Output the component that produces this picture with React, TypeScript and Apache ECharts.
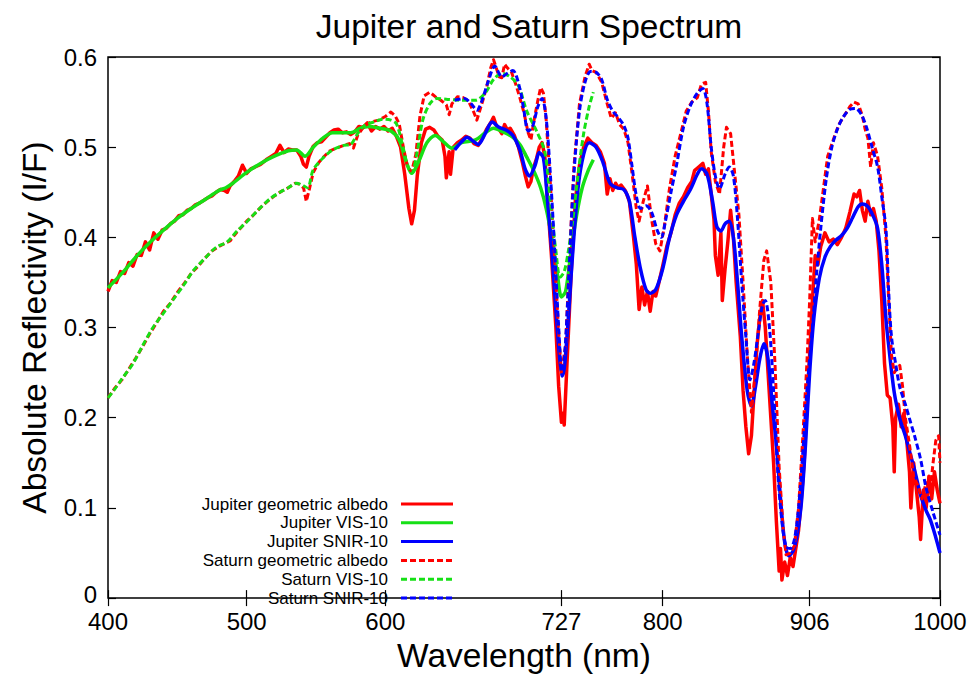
import React, { useEffect, useRef } from "react";
import * as echarts from "echarts";

// ---------- data ----------
const xTicks = [400, 500, 600, 727, 800, 906, 1000];
const yTicks = [0, 0.1, 0.2, 0.3, 0.4, 0.5, 0.6];

const legendNames = [
  "Jupiter geometric albedo",
  "Jupiter VIS-10",
  "Jupiter SNIR-10",
  "Saturn geometric albedo",
  "Saturn VIS-10",
  "Saturn SNIR-10",
];

// Jupiter geometric albedo (noisy)
const wlJupGeo = [
  400, 403, 406, 409, 412, 415, 418, 421, 424, 427, 430, 433, 436, 439, 442, 445, 448, 451, 454, 457,
  460, 463, 466, 469, 472, 475, 478, 481, 484, 486, 488, 491, 494, 497, 500, 503, 506, 510, 514, 518,
  521, 524, 527, 530, 533, 536, 539, 541, 543, 545, 548, 551, 554, 557, 560, 563, 566, 569, 572, 575,
  578, 581, 584, 587, 590, 593, 596, 599, 602, 605, 608, 611, 614, 617, 619, 621, 623, 626, 629, 632,
  635, 638, 641, 643, 644, 646, 647, 649, 652, 655, 658, 661, 664, 667, 670, 673, 676, 678, 680, 682,
  684, 686, 688, 690, 693, 696, 699, 701, 703, 705, 707, 709, 711, 713, 715, 717, 720, 723, 725, 727,
  728, 729, 731, 734, 737, 740, 743, 746, 749, 752, 755, 758, 760, 762, 764, 766, 768, 770, 773, 776,
  779, 781, 783, 785, 787, 789, 791, 793, 795, 797, 800, 803, 806, 809, 812, 815, 818, 821, 823, 826,
  829, 831, 833, 835, 837, 838, 840, 842, 843, 845, 847, 849, 851, 853, 856, 858, 860, 862, 864, 866,
  868, 870, 872, 874, 876, 878, 880, 882, 884, 885, 886, 888, 890, 892, 894, 896, 898, 900, 902, 904,
  906, 908, 910, 912, 914, 917, 920, 923, 926, 929, 932, 935, 938, 940, 942, 944, 946, 948, 950, 952,
  954, 956, 958, 960, 962, 964, 966, 967, 968, 970, 972, 974, 976, 978, 979, 981, 983, 985, 986, 988,
  990, 992, 994, 996, 998, 1000,
];
const rJupGeo = [
  0.340, 0.352, 0.350, 0.362, 0.360, 0.372, 0.368, 0.381, 0.380, 0.395, 0.386, 0.405, 0.398, 0.408, 0.410, 0.415, 0.418, 0.424, 0.425, 0.430,
  0.432, 0.436, 0.438, 0.441, 0.444, 0.446, 0.450, 0.453, 0.452, 0.450, 0.457, 0.462, 0.468, 0.480, 0.471, 0.476, 0.478, 0.481, 0.486, 0.490,
  0.493, 0.502, 0.494, 0.498, 0.497, 0.497, 0.490, 0.481, 0.478, 0.490, 0.501, 0.505, 0.506, 0.511, 0.516, 0.519, 0.520, 0.516, 0.517, 0.514,
  0.517, 0.523, 0.522, 0.527, 0.518, 0.523, 0.520, 0.523, 0.518, 0.521, 0.512, 0.500, 0.470, 0.432, 0.415, 0.430, 0.468, 0.505, 0.520, 0.522,
  0.519, 0.512, 0.508, 0.490, 0.466, 0.495, 0.470, 0.500, 0.505, 0.508, 0.512, 0.510, 0.504, 0.502, 0.510, 0.520, 0.527, 0.533, 0.524, 0.520,
  0.515, 0.525, 0.519, 0.521, 0.513, 0.500, 0.482, 0.468, 0.456, 0.462, 0.478, 0.487, 0.500, 0.505, 0.490, 0.440, 0.375, 0.300, 0.235, 0.195,
  0.205, 0.192, 0.260, 0.360, 0.440, 0.480, 0.500, 0.510, 0.505, 0.502, 0.495, 0.482, 0.448, 0.465, 0.452, 0.460, 0.455, 0.458, 0.452, 0.440,
  0.400, 0.370, 0.320, 0.345, 0.325, 0.340, 0.318, 0.340, 0.335, 0.348, 0.368, 0.390, 0.405, 0.425, 0.438, 0.445, 0.455, 0.462, 0.474, 0.478,
  0.482, 0.470, 0.476, 0.448, 0.420, 0.380, 0.358, 0.405, 0.330, 0.365, 0.395, 0.430, 0.400, 0.350, 0.290, 0.230, 0.190, 0.160, 0.180, 0.230,
  0.280, 0.310, 0.330, 0.300, 0.250, 0.200, 0.150, 0.085, 0.030, 0.055, 0.020, 0.040, 0.025, 0.045, 0.035, 0.055, 0.075, 0.110, 0.150, 0.210,
  0.270, 0.330, 0.380, 0.370, 0.390, 0.405, 0.395, 0.398, 0.392, 0.400, 0.410, 0.428, 0.448, 0.445, 0.452, 0.430, 0.418, 0.440, 0.425, 0.432,
  0.418, 0.385, 0.330, 0.260, 0.225, 0.222, 0.190, 0.140, 0.200, 0.215, 0.190, 0.205, 0.175, 0.140, 0.100, 0.150, 0.120, 0.090, 0.065, 0.120,
  0.100, 0.135, 0.110, 0.140, 0.120, 0.105,
];

// Jupiter VIS-10 (smooth, green solid)
const wlJupVis = [
  400, 410, 420, 430, 440, 450, 460, 470, 480, 485, 490, 500, 510, 520, 530, 536, 542, 548, 555, 562,
  570, 575, 582, 588, 596, 604, 610, 615, 619, 624, 630, 636, 642, 648, 655, 665, 672, 678, 685, 692,
  697, 702, 707, 712, 716, 720, 724, 727, 730, 734, 738, 742, 746, 750,
];
const rJupVis = [
  0.344, 0.360, 0.378, 0.394, 0.408, 0.421, 0.432, 0.442, 0.452, 0.455, 0.460, 0.472, 0.482, 0.490, 0.496, 0.497, 0.490, 0.500, 0.510, 0.516,
  0.516, 0.516, 0.521, 0.523, 0.521, 0.518, 0.508, 0.484, 0.471, 0.484, 0.505, 0.513, 0.506, 0.499, 0.505, 0.508, 0.516, 0.521, 0.517, 0.511,
  0.503, 0.489, 0.474, 0.455, 0.432, 0.400, 0.360, 0.334, 0.340, 0.385, 0.425, 0.455, 0.473, 0.486,
];

// Jupiter SNIR-10 (smooth, blue solid)
const wlJupSnir = [
  650, 655, 659, 663, 667, 672, 677, 682, 687, 692, 697, 701, 704, 708, 711, 714, 717, 720, 723, 726,
  728, 731, 735, 739, 743, 747, 752, 757, 762, 767, 772, 776, 780, 784, 788, 791, 795, 800, 805, 810,
  815, 820, 825, 828, 832, 836, 839, 842, 845, 848, 851, 854, 857, 861, 864, 867, 870, 873, 876, 879,
  882, 885, 888, 891, 894, 897, 900, 903, 906, 909, 913, 917, 921, 925, 929, 933, 937, 941, 944, 948,
  952, 955, 958, 961, 963, 967, 971, 975, 978, 982, 986, 990, 993, 997, 1000,
];
const rJupSnir = [
  0.497, 0.506, 0.511, 0.507, 0.503, 0.515, 0.528, 0.522, 0.519, 0.513, 0.497, 0.475, 0.468, 0.480, 0.494, 0.488, 0.440, 0.385, 0.320, 0.262,
  0.247, 0.290, 0.380, 0.455, 0.492, 0.505, 0.500, 0.483, 0.460, 0.455, 0.453, 0.440, 0.400, 0.365, 0.342, 0.338, 0.342, 0.365, 0.400, 0.425,
  0.440, 0.453, 0.470, 0.476, 0.470, 0.440, 0.412, 0.407, 0.415, 0.418, 0.400, 0.350, 0.290, 0.230, 0.213, 0.235, 0.265, 0.282, 0.265, 0.215,
  0.170, 0.110, 0.062, 0.047, 0.052, 0.070, 0.105, 0.170, 0.250, 0.310, 0.355, 0.378, 0.390, 0.397, 0.402, 0.410, 0.422, 0.434, 0.437, 0.434,
  0.423, 0.410, 0.370, 0.310, 0.280, 0.228, 0.199, 0.180, 0.163, 0.140, 0.114, 0.097, 0.087, 0.067, 0.050,
];

// Saturn geometric albedo (noisy, red dashed)
const wlSatGeo = [
  400, 405, 410, 415, 420, 425, 430, 435, 440, 445, 450, 455, 460, 465, 470, 475, 480, 485, 488, 492,
  496, 500, 505, 510, 515, 520, 525, 530, 535, 538, 541, 543, 545, 548, 552, 556, 560, 565, 570, 574,
  577, 580, 585, 590, 595, 600, 604, 607, 610, 613, 616, 619, 622, 625, 628, 632, 636, 640, 644, 646,
  648, 652, 656, 660, 664, 666, 669, 673, 676, 678, 680, 682, 684, 686, 688, 691, 694, 697, 700, 703,
  705, 707, 710, 712, 714, 716, 719, 722, 725, 727, 730, 733, 736, 740, 744, 747, 749, 752, 756, 760,
  763, 766, 769, 772, 775, 778, 781, 783, 786, 789, 792, 795, 798, 801, 805, 809, 813, 817, 821, 825,
  828, 831, 833, 835, 838, 841, 844, 846, 849, 852, 855, 858, 861, 864, 867, 870, 873, 875, 878, 881,
  884, 887, 889, 892, 895, 898, 901, 904, 906, 908, 910, 913, 916, 919, 923, 927, 931, 935, 938, 941,
  944, 946, 948, 950, 952, 955, 958, 961, 963, 965, 967, 969, 971, 973, 975, 978, 981, 984, 987, 990,
  993, 995, 997, 999, 1000,
];
const rSatGeo = [
  0.222, 0.233, 0.242, 0.254, 0.266, 0.279, 0.293, 0.305, 0.318, 0.327, 0.339, 0.349, 0.360, 0.368, 0.377, 0.385, 0.390, 0.394, 0.396, 0.404,
  0.411, 0.418, 0.425, 0.433, 0.440, 0.446, 0.451, 0.455, 0.460, 0.459, 0.455, 0.440, 0.452, 0.472, 0.483, 0.490, 0.496, 0.499, 0.502, 0.504,
  0.499, 0.513, 0.524, 0.528, 0.530, 0.534, 0.539, 0.535, 0.526, 0.500, 0.478, 0.473, 0.492, 0.535, 0.557, 0.561, 0.556, 0.552, 0.547, 0.536,
  0.548, 0.556, 0.555, 0.551, 0.538, 0.530, 0.545, 0.566, 0.588, 0.597, 0.588, 0.578, 0.577, 0.592, 0.588, 0.583, 0.570, 0.555, 0.538, 0.516,
  0.508, 0.528, 0.552, 0.566, 0.560, 0.530, 0.460, 0.380, 0.295, 0.250, 0.280, 0.385, 0.478, 0.548, 0.578, 0.592, 0.585, 0.583, 0.572, 0.548,
  0.532, 0.538, 0.525, 0.520, 0.505, 0.470, 0.432, 0.418, 0.440, 0.457, 0.420, 0.393, 0.385, 0.410, 0.455, 0.490, 0.515, 0.540, 0.550, 0.555,
  0.570, 0.572, 0.540, 0.495, 0.462, 0.448, 0.500, 0.522, 0.515, 0.470, 0.425, 0.350, 0.270, 0.206, 0.255, 0.320, 0.375, 0.385, 0.350, 0.260,
  0.145, 0.075, 0.048, 0.050, 0.058, 0.100, 0.177, 0.260, 0.330, 0.421, 0.395, 0.420, 0.455, 0.490, 0.508, 0.525, 0.535, 0.545, 0.550, 0.548,
  0.535, 0.520, 0.510, 0.478, 0.505, 0.490, 0.455, 0.400, 0.330, 0.270, 0.250, 0.255, 0.258, 0.235, 0.200, 0.170, 0.135, 0.125, 0.110, 0.128,
  0.120, 0.150, 0.175, 0.180, 0.150,
];

// Saturn VIS-10 (smooth, green dashed)
const wlSatVis = [
  400, 405, 410, 418, 425, 432, 440, 447, 455, 461, 470, 478, 486, 493, 500, 508, 517, 524, 530, 536,
  541, 544, 548, 555, 562, 570, 575, 580, 585, 592, 598, 604, 608, 612, 616, 619, 623, 627, 632, 637,
  645, 655, 665, 672, 678, 684, 690, 696, 702, 709, 715, 719, 723, 726, 729, 732, 735, 739, 743, 747,
  750,
];
const rSatVis = [
  0.222, 0.232, 0.243, 0.260, 0.280, 0.299, 0.316, 0.331, 0.348, 0.362, 0.377, 0.389, 0.395, 0.407, 0.417, 0.430, 0.443, 0.450, 0.455, 0.460,
  0.457, 0.455, 0.475, 0.488, 0.497, 0.502, 0.503, 0.515, 0.524, 0.528, 0.531, 0.530, 0.526, 0.505, 0.480, 0.471, 0.495, 0.530, 0.548, 0.554,
  0.553, 0.552, 0.552, 0.560, 0.575, 0.582, 0.578, 0.568, 0.540, 0.518, 0.495, 0.440, 0.385, 0.356, 0.362, 0.385, 0.417, 0.470, 0.515, 0.545,
  0.561,
];

// Saturn SNIR-10 (smooth, blue dashed)
const wlSatSnir = [
  650, 657, 662, 666, 670, 674, 679, 684, 688, 692, 697, 700, 703, 706, 710, 713, 716, 719, 722, 725,
  727.5, 730, 733, 736, 740, 744, 748, 752, 756, 760, 764, 768, 772, 775, 778, 781, 784, 788, 792, 796,
  799, 802, 806, 810, 815, 820, 825, 829, 832, 835, 838, 841, 845, 848, 851, 854, 857, 860, 863, 866,
  869, 872, 874, 877, 880, 883, 886, 889, 892, 895, 898, 901, 904, 908, 911, 914, 918, 922, 926, 930,
  935, 939, 943, 947, 951, 955, 958, 961, 963, 965, 968, 971, 975, 978, 982, 986, 990, 995, 1000,
];
const rSatSnir = [
  0.552, 0.554, 0.548, 0.541, 0.553, 0.572, 0.590, 0.578, 0.582, 0.585, 0.565, 0.540, 0.518, 0.522, 0.545, 0.554, 0.532, 0.470, 0.390, 0.300,
  0.246, 0.285, 0.380, 0.470, 0.540, 0.572, 0.584, 0.583, 0.575, 0.553, 0.540, 0.533, 0.524, 0.510, 0.478, 0.446, 0.432, 0.435, 0.428, 0.408,
  0.400, 0.418, 0.450, 0.480, 0.522, 0.546, 0.560, 0.565, 0.548, 0.500, 0.468, 0.454, 0.470, 0.478, 0.468, 0.420, 0.350, 0.290, 0.242, 0.262,
  0.295, 0.325, 0.330, 0.300, 0.230, 0.140, 0.085, 0.057, 0.055, 0.065, 0.100, 0.160, 0.230, 0.300, 0.360, 0.410, 0.465, 0.500, 0.520, 0.533,
  0.542, 0.543, 0.537, 0.522, 0.500, 0.478, 0.445, 0.410, 0.340, 0.290, 0.260, 0.234, 0.215, 0.199, 0.178, 0.154, 0.122, 0.095, 0.070,
];

// ---------- styling ----------
const RED = "#ff0000";
const GREEN = "#16e016";
const BLUE = "#0000ff";
const FONT = "Liberation Sans, Arial, Helvetica, sans-serif";

const pairs = (xs: number[], ys: number[]) => xs.map((x, i) => [x, ys[i]]);

export default function App() {
  const ref = useRef<HTMLDivElement>(null);

  useEffect(() => {
    if (!ref.current) return;
    const chart = echarts.init(ref.current, null, { renderer: "svg" });

    const gl = 108, gr = 940, gt = 57, gb = 615;

    const mkLine = (name: string, color: string, xs: number[], ys: number[], dashed: boolean, width: number, smooth: number | boolean, z: number) => ({
      name,
      type: "line",
      data: pairs(xs, ys),
      showSymbol: false,
      symbol: "none",
      smooth,
      lineStyle: { color, width, type: dashed ? [6, 3] : "solid", cap: "butt", join: "round" },
      itemStyle: { color },
      z,
      silent: true,
    });

    const legendColors = [RED, GREEN, BLUE, RED, GREEN, BLUE];
    const legendTop = 504;
    const legendStep = 18.8;
    const legendGraphics: any[] = [];
    legendNames.forEach((n, i) => {
      const y = legendTop + i * legendStep;
      legendGraphics.push({
        type: "text",
        x: 388,
        y,
        style: {
          text: n,
          fill: "#000",
          font: `17px ${FONT}`,
          lineHeight: 17,
          textAlign: "right",
          textVerticalAlign: "middle",
        },
      });
      legendGraphics.push({
        type: "line",
        shape: { x1: 401, y1: y, x2: 453, y2: y },
        style: {
          stroke: legendColors[i],
          lineWidth: 3,
          lineDash: i >= 3 ? [6, 3] : null,
        },
      });
    });

    const option: any = {
      animation: false,
      backgroundColor: "#ffffff",
      title: {
        text: "Jupiter and Saturn Spectrum",
        left: (gl + gr) / 2,
        top: 4,
        textAlign: "center",
        textStyle: { fontFamily: FONT, fontSize: 33.5, fontWeight: "normal", color: "#000" },
      },
      grid: {
        left: gl,
        right: 978 - gr,
        top: gt,
        bottom: 677 - gb,
        show: true,
        borderColor: "#000",
        borderWidth: 1.5,
        backgroundColor: "transparent",
      },
      xAxis: [
        {
          type: "value",
          min: 400,
          max: 1000,
          position: "bottom",
          name: "Wavelength (nm)",
          nameLocation: "middle",
          nameGap: 25,
          nameTextStyle: { fontFamily: FONT, fontSize: 33.5, color: "#000", verticalAlign: "top" },
          axisLine: { show: false },
          splitLine: { show: false },
          axisTick: { show: true, inside: true, length: 8, customValues: xTicks, lineStyle: { color: "#000", width: 1.2 } },
          axisLabel: {
            customValues: xTicks,
            fontFamily: FONT,
            fontSize: 24,
            lineHeight: 20,
            color: "#000",
            margin: 13,
            formatter: (v: number) => String(Math.round(v)),
          },
        },
        {
          type: "value",
          min: 400,
          max: 1000,
          position: "top",
          axisLine: { show: false },
          splitLine: { show: false },
          axisTick: { show: true, inside: true, length: 8, customValues: xTicks, lineStyle: { color: "#000", width: 1.2 } },
          axisLabel: { show: false, customValues: xTicks },
        },
      ],
      yAxis: [
        {
          type: "value",
          min: 0,
          max: 0.6,
          interval: 0.1,
          position: "left",
          name: "Absolute Reflectivity (I/F)",
          nameLocation: "middle",
          nameGap: 57,
          nameRotate: 90,
          nameTextStyle: { fontFamily: FONT, fontSize: 33.5, color: "#000" },
          axisLine: { show: false },
          splitLine: { show: false },
          axisTick: { show: true, inside: true, length: 8, lineStyle: { color: "#000", width: 1.2 } },
          axisLabel: {
            fontFamily: FONT,
            fontSize: 24,
            lineHeight: 20,
            color: "#000",
            margin: 11,
            formatter: (v: number) => (Math.abs(v) < 1e-9 ? "{z|0}" : String(Math.round(v * 10) / 10)),
            rich: {
              z: { fontFamily: FONT, fontSize: 24, lineHeight: 20, color: "#000", padding: [0, 0, 7, 0] },
            },
          },
        },
        {
          type: "value",
          min: 0,
          max: 0.6,
          interval: 0.1,
          position: "right",
          axisLine: { show: false },
          splitLine: { show: false },
          axisTick: { show: true, inside: true, length: 8, lineStyle: { color: "#000", width: 1.2 } },
          axisLabel: { show: false },
        },
      ],
      series: [
        mkLine(legendNames[0], RED, wlJupGeo, rJupGeo, false, 3.5, false, 2),
        mkLine(legendNames[1], GREEN, wlJupVis, rJupVis, false, 3.5, 0.3, 3),
        mkLine(legendNames[2], BLUE, wlJupSnir, rJupSnir, false, 3.5, 0.3, 4),
        mkLine(legendNames[3], RED, wlSatGeo, rSatGeo, true, 3, false, 5),
        mkLine(legendNames[4], GREEN, wlSatVis, rSatVis, true, 3, 0.3, 6),
        mkLine(legendNames[5], BLUE, wlSatSnir, rSatSnir, true, 3, 0.3, 7),
      ],
      graphic: legendGraphics,
    };

    chart.setOption(option);
    return () => chart.dispose();
  }, []);

  return <div ref={ref} style={{ width: 978, height: 677, position: "absolute", left: 0, top: 0 }} />;
}
